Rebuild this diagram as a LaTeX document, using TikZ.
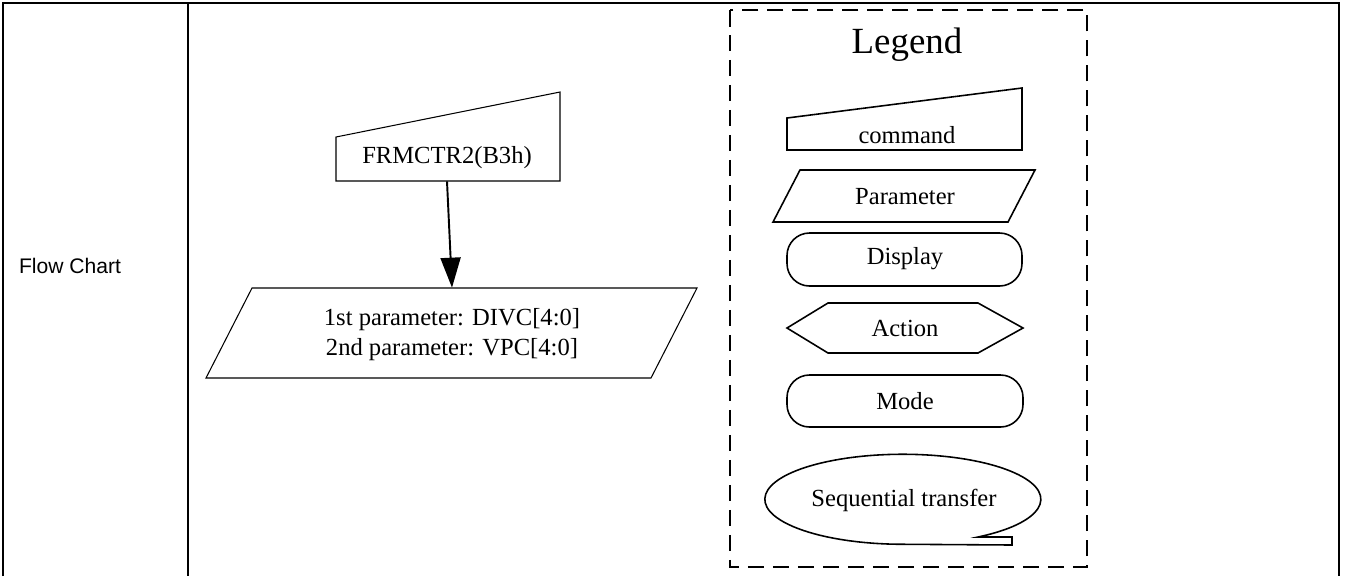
\documentclass[tikz,border=0pt]{standalone}
\usepackage{fontspec}
\setmainfont{Liberation Serif}
\newfontfamily\arialfont{Liberation Sans}
\usetikzlibrary{arrows.meta}
\newcommand{\cmdshape}[6]{\draw[#1] (#2,#6) -- (#2,#4) -- (#3,#5) -- (#3,#6) -- cycle;}
\newcommand{\parashape}[6]{\draw[#1] (#2,#5) -- (#3,#5) -- ({#3-#4},#6) -- ({#2-#4},#6) -- cycle;}

\begin{document}
\begin{tikzpicture}[x=0.02cm,y=-0.02cm,
  shp/.style={line width=0.6pt},
  lgshp/.style={line width=0.9pt},
  lbl/.style={font=\fontsize{14}{17}\selectfont,align=center,inner sep=0pt}]
\useasboundingbox (0,0) rectangle (1345,576);
\draw[line width=1.3pt] (3,576) -- (3,3) -- (1339,3) -- (1339,576);
\draw[line width=1.3pt] (188,3) -- (188,576);
\node[font=\arialfont\fontsize{12}{14}\selectfont] (rowname) at (70,266) {Flow Chart};

\cmdshape{shp}{336}{560}{137}{92}{181}
\node[lbl,minimum height=0.92cm] (frmctr) at (447,158) {FRMCTR2(B3h)};
\parashape{shp}{252}{697}{46}{288}{378}
\node[lbl,minimum height=1.88cm] (divc) at (452,335) {1st parameter: DIVC[4:0]\\2nd parameter: VPC[4:0]};
\draw[line width=1.1pt,-{Triangle[length=0.6cm,width=0.4cm]}] (frmctr.south) -- (divc.north);

\draw[line width=1.6pt,dash pattern=on 0.33cm off 0.17cm] (730,10) rectangle (1087,567);
\node[font=\fontsize{21}{25}\selectfont] (legend) at (907,45) {Legend};
\cmdshape{lgshp}{787}{1022}{118}{88}{150}
\node[lbl] (lgcmd) at (907,135) {command};
\parashape{lgshp}{800}{1035}{27}{170}{222}
\node[lbl] (lgpar) at (905,197) {Parameter};
\draw[lgshp,rounded corners=0.45cm] (787,233) rectangle (1022,286);
\node[lbl] (lgdisp) at (905,259) {Display};
\draw[lgshp] (787,328) -- (828,303) -- (978,303) -- (1023,328) -- (978,353) -- (828,353) -- cycle;
\node[lbl] (lgact) at (905,328) {Action};
\draw[lgshp,rounded corners=0.45cm] (787,375) rectangle (1023,427);
\node[lbl] (lgmode) at (905,401) {Mode};
\draw[lgshp] (978,537) arc[start angle=57,end angle=-270,x radius=138,y radius=45] -- (1012,545) -- (1012,537) -- cycle;
\node[lbl] (lgseq) at (904,500) {Sequential transfer};
\end{tikzpicture}
\end{document}
